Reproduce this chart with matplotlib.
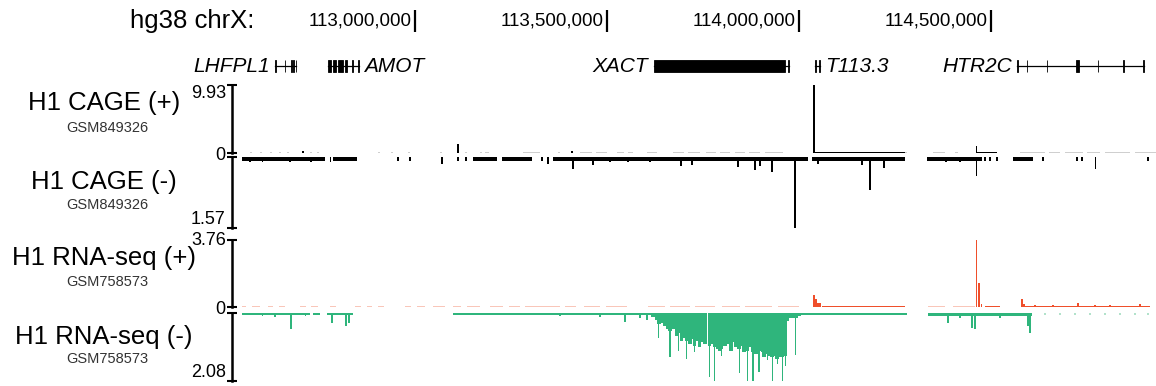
import matplotlib.pyplot as plt

plt.rcParams['font.family'] = ['Liberation Sans', 'DejaVu Sans']

# figure size in pixels
W, H = 1156, 386
# shown window on chrX (Mb)
WIN_START = 112.523
WIN_END = 114.930

ruler_ticks = [113.0, 113.5, 114.0, 114.5]
ruler_labels = ['113,000,000', '113,500,000', '114,000,000', '114,500,000']

# name, start, end, exons, label side
genes = [
    ('LHFPL1', 112.635, 112.690,
     [(112.634, 112.637), (112.660, 112.662), (112.676, 112.679), (112.682, 112.685), (112.689, 112.691)], 'left'),
    ('AMOT', 112.773, 112.854,
     [(112.773, 112.781), (112.786, 112.794), (112.799, 112.812), (112.818, 112.823), (112.836, 112.839),
      (112.852, 112.854)], 'right'),
    ('XACT', 113.621, 113.974, [(113.621, 113.964), (113.972, 113.975)], 'left'),
    ('T113.3', 114.041, 114.056, [(114.041, 114.044), (114.053, 114.056)], 'right'),
    ('HTR2C', 114.568, 114.900,
     [(114.568, 114.571), (114.593, 114.595), (114.645, 114.647), (114.721, 114.729), (114.778, 114.780),
      (114.843, 114.846), (114.897, 114.900)], 'left'),
]

track_names = ['H1 CAGE (+)', 'H1 CAGE (-)', 'H1 RNA-seq (+)', 'H1 RNA-seq (-)']
track_ids = ['GSM849326', 'GSM849326', 'GSM758573', 'GSM758573']
track_max = [9.93, 1.57, 3.76, 2.08]

# ---- CAGE (+) ----
cage_plus_faint = [
    (112.570, 112.575, 0.15), (112.596, 112.601, 0.15), (112.622, 112.627, 0.15), (112.646, 112.651, 0.15),
    (112.667, 112.672, 0.15), (112.727, 112.732, 0.15), (112.745, 112.750, 0.15), (112.904, 112.909, 0.15),
    (112.938, 112.943, 0.15), (112.982, 112.987, 0.15), (113.065, 113.070, 0.15), (113.130, 113.135, 0.15),
    (113.169, 113.174, 0.15), (113.182, 113.193, 0.15), (113.281, 113.326, 0.15), (113.372, 113.377, 0.15),
    (113.430, 113.460, 0.15), (113.470, 113.500, 0.15), (113.526, 113.545, 0.15), (113.555, 113.568, 0.15),
    (113.604, 113.630, 0.15), (113.672, 113.700, 0.15), (113.712, 113.742, 0.15), (113.758, 113.785, 0.15),
    (113.795, 113.820, 0.15), (113.833, 113.860, 0.15), (113.870, 113.898, 0.15), (113.911, 113.958, 0.15),
    (114.263, 114.281, 0.15), (114.349, 114.380, 0.15), (114.406, 114.414, 0.15), (114.575, 114.640, 0.15),
    (114.650, 114.680, 0.15), (114.693, 114.740, 0.15), (114.750, 114.784, 0.15), (114.797, 114.862, 0.15),
    (114.875, 114.930, 0.15),
]
cage_plus_cov = [(114.039, 114.276, 0.15), (114.463, 114.516, 0.15)]
cage_plus_peaks = [(112.708, 0.3), (113.112, 1.3), (113.409, 0.25), (114.039, 9.93), (114.463, 1.0)]

# ---- CAGE (-) ----
cage_minus_cov = [
    (112.549, 112.766, 0.08), (112.786, 112.849, 0.08), (113.151, 113.214, 0.08), (113.227, 113.305, 0.08),
    (113.359, 114.023, 0.08), (114.034, 114.276, 0.08), (114.333, 114.476, 0.08), (114.557, 114.609, 0.08),
]
cage_minus_peaks = [
    (112.570, 0.12), (112.602, 0.10), (112.674, 0.10), (112.729, 0.10), (112.779, 0.12), (112.956, 0.08),
    (112.987, 0.08), (113.070, 0.15), (113.112, 0.08), (113.133, 0.08), (113.331, 0.08), (113.346, 0.15),
    (113.411, 0.27), (113.464, 0.18), (113.508, 0.12), (113.555, 0.12), (113.612, 0.12), (113.693, 0.20),
    (113.721, 0.17), (113.841, 0.22), (113.885, 0.29), (113.898, 0.20), (113.930, 0.33), (113.990, 1.57),
    (114.049, 0.15), (114.164, 0.18), (114.185, 0.72), (114.221, 0.25), (114.383, 0.12), (114.419, 0.12),
    (114.463, 0.42), (114.484, 0.08), (114.497, 0.08), (114.516, 0.08), (114.635, 0.08), (114.724, 0.08),
    (114.737, 0.08), (114.773, 0.27), (114.909, 0.08),
]

# ---- RNA-seq (+) ----
rna_plus_faint = [
    (112.549, 112.560, 0.06), (112.575, 112.596, 0.06), (112.617, 112.630, 0.06), (112.645, 112.661, 0.06),
    (112.701, 112.715, 0.06), (112.730, 112.747, 0.06), (112.779, 112.795, 0.06), (112.844, 112.860, 0.06),
    (112.875, 112.888, 0.06), (112.904, 112.920, 0.06), (112.974, 112.990, 0.06), (113.005, 113.026, 0.06),
    (113.047, 113.078, 0.06), (113.099, 113.120, 0.06), (113.135, 113.169, 0.06), (113.195, 113.230, 0.06),
    (113.245, 113.273, 0.06), (113.286, 113.378, 0.06), (113.391, 113.420, 0.06), (113.440, 113.482, 0.06),
    (113.497, 113.552, 0.06), (113.607, 113.650, 0.06), (113.665, 113.716, 0.06), (113.729, 113.780, 0.06),
    (113.800, 113.846, 0.06), (113.859, 113.930, 0.06), (113.945, 114.000, 0.06), (114.336, 114.380, 0.06),
    (114.400, 114.458, 0.06),
]
rna_plus_cov = [(114.060, 114.276, 0.06), (114.484, 114.523, 0.06), (114.581, 114.914, 0.06)]
rna_plus_peaks = [
    (114.039, 0.70), (114.044, 0.45), (114.049, 0.25), (114.055, 0.25), (114.463, 3.76), (114.469, 1.37),
    (114.476, 0.15), (114.581, 0.45), (114.586, 0.15), (114.615, 0.10), (114.661, 0.12), (114.727, 0.25),
    (114.771, 0.10), (114.810, 0.10), (114.888, 0.15),
]

# ---- RNA-seq (-) ----
rna_minus_faint = [
    (114.639, 114.643, 0.05), (114.678, 114.682, 0.05), (114.717, 114.721, 0.05), (114.756, 114.760, 0.05),
    (114.795, 114.799, 0.05), (114.834, 114.838, 0.05), (114.873, 114.877, 0.05), (114.907, 114.911, 0.05),
]
rna_minus_cov = [
    (112.549, 112.727, 0.06), (112.734, 112.753, 0.06), (112.771, 112.839, 0.06), (113.099, 113.620, 0.06),
    (114.000, 114.281, 0.07), (114.336, 114.607, 0.08),
]
rna_minus_peaks = [
    (112.602, 0.10), (112.635, 0.12), (112.677, 0.49), (112.714, 0.10), (112.784, 0.31), (112.820, 0.40),
    (112.828, 0.30), (113.378, 0.10), (113.482, 0.12), (113.547, 0.28), (113.586, 0.15), (113.604, 0.20),
    (114.388, 0.30), (114.419, 0.15), (114.451, 0.45), (114.458, 0.49), (114.523, 0.15), (114.596, 0.40),
    (114.602, 0.60),
]
# dense XACT coverage on the minus strand: bulk level and single deep spikes
xact_pos = [
    113.620, 113.628, 113.635, 113.643, 113.651, 113.659, 113.664, 113.672, 113.680, 113.688,
    113.693, 113.701, 113.708, 113.716, 113.721, 113.727, 113.734, 113.740, 113.747, 113.755,
    113.766, 113.773, 113.781, 113.789, 113.794, 113.799, 113.807, 113.815, 113.823, 113.828,
    113.836, 113.844, 113.849, 113.857, 113.865, 113.872, 113.880, 113.888, 113.896, 113.904,
    113.909, 113.917, 113.922, 113.930, 113.938, 113.943, 113.951, 113.956, 113.964, 113.969,
    113.977, 113.984, 113.992, 114.000,
]
xact_bulk = [
    0.12, 0.20, 0.35, 0.30, 0.40, 0.50, 0.55, 0.50, 0.70, 0.60,
    0.85, 0.75, 0.85, 0.95, 0.80, 1.00, 0.85, 1.05, 0.90, 0.95,
    1.00, 0.95, 1.05, 1.10, 1.15, 1.10, 1.00, 0.95, 1.15, 0.90,
    1.05, 1.10, 1.00, 1.20, 1.15, 1.05, 1.20, 1.25, 1.15, 1.20,
    1.35, 1.25, 1.30, 1.35, 1.30, 1.40, 1.35, 1.35, 1.30, 0.25,
    0.15, 0.15, 0.15, 0.10,
]
xact_spikes = [
    (113.635, 0.77), (113.664, 1.35), (113.686, 1.15), (113.708, 1.41), (113.727, 1.20), (113.766, 1.96),
    (113.781, 2.08), (113.799, 1.30), (113.844, 1.85), (113.865, 2.10), (113.880, 2.08), (113.896, 1.79),
    (113.917, 1.45), (113.930, 2.10), (113.943, 1.56), (113.956, 2.08), (113.964, 1.62), (113.992, 1.29),
]

BLACK = '#000000'
GREY = '#cfcfcf'
RED = '#ef4f2b'
PINK = '#f9c6b9'
GREEN = '#2fb57c'
LIGHTGREEN = '#b2e2cb'


def px_axes(fig, x0, y0, x1, y1):
    # axes from pixel box (top-left origin)
    return fig.add_axes([x0 / W, 1 - y1 / H, (x1 - x0) / W, (y1 - y0) / H])


def draw_segments(ax, segs, sign, color):
    if not segs:
        return
    ax.bar([s[0] for s in segs], [sign * s[2] for s in segs], width=[s[1] - s[0] for s in segs],
           align='edge', color=color, linewidth=0)


def draw_peaks(ax, peaks, sign, color, width=0.004):
    ax.bar([p[0] for p in peaks], [sign * p[1] for p in peaks], width=width,
           color=color, linewidth=0)


def style_track(ax, vmax, sign, top_va='center'):
    ax.set_xlim(WIN_START, WIN_END)
    for side in ['top', 'right', 'bottom']:
        ax.spines[side].set_visible(False)
    ax.spines['left'].set_linewidth(1.8)
    ax.set_xticks([])
    if sign > 0:
        ax.set_ylim(0, vmax)
        ax.set_yticks([0, vmax])
        ax.set_yticklabels(['0', f'{vmax}'])
        ax.get_yticklabels()[1].set_va(top_va)
    else:
        ax.set_ylim(-vmax, 0)
        ax.set_yticks([-vmax, 0])
        ax.set_yticklabels([f'{vmax}', ''])
        ax.get_yticklabels()[0].set_va('bottom')
    ax.tick_params(axis='y', direction='inout', length=7, width=1.5, labelsize=13, pad=1)
    ax.patch.set_alpha(0)


fig = plt.figure(figsize=(W / 100, H / 100), dpi=100)

# ruler
ax_r = px_axes(fig, 232, 10, 1156, 32)
ax_r.set_xlim(WIN_START, WIN_END)
ax_r.set_ylim(0, 1)
ax_r.axis('off')
ax_r.vlines(ruler_ticks, 0.0, 1.0, color='black', lw=1.6)
for pos, lab in zip(ruler_ticks, ruler_labels):
    ax_r.annotate(lab, (pos, 0.5), xytext=(-3, 0), textcoords='offset pixels',
                  ha='right', va='center', fontsize=13.5)
fig.text(130 / W, 1 - 21 / H, 'hg38 chrX:', fontsize=18.5, ha='left', va='center')

# gene track
ax_g = px_axes(fig, 232, 59, 1156, 73)
ax_g.set_xlim(WIN_START, WIN_END)
ax_g.set_ylim(-1, 1)
ax_g.axis('off')
for name, start, end, exons, side in genes:
    ax_g.plot([start, end], [0, 0], color='black', lw=0.9)
    ax_g.bar([e[0] for e in exons], [1.7] * len(exons), width=[e[1] - e[0] for e in exons],
             bottom=-0.85, align='edge', color='black', edgecolor='black', linewidth=0.6)
    if side == 'left':
        ax_g.annotate(name, (start, 0), xytext=(-5, 0), textcoords='offset pixels',
                      ha='right', va='center', fontsize=15, style='italic')
    else:
        ax_g.annotate(name, (end, 0), xytext=(5, 0), textcoords='offset pixels',
                      ha='left', va='center', fontsize=15, style='italic')

# signal tracks
boxes = [(85, 153), (157, 228), (240, 307), (313, 381)]
ax_cp = px_axes(fig, 232, boxes[0][0], 1156, boxes[0][1])
draw_segments(ax_cp, cage_plus_faint, 1, GREY)
draw_segments(ax_cp, cage_plus_cov, 1, BLACK)
draw_peaks(ax_cp, cage_plus_peaks, 1, BLACK)
style_track(ax_cp, track_max[0], 1, top_va='top')

ax_cm = px_axes(fig, 232, boxes[1][0], 1156, boxes[1][1])
draw_segments(ax_cm, cage_minus_cov, -1, BLACK)
draw_peaks(ax_cm, cage_minus_peaks, -1, BLACK)
style_track(ax_cm, track_max[1], -1)

ax_rp = px_axes(fig, 232, boxes[2][0], 1156, boxes[2][1])
draw_segments(ax_rp, rna_plus_faint, 1, PINK)
draw_segments(ax_rp, rna_plus_cov, 1, RED)
draw_peaks(ax_rp, rna_plus_peaks, 1, RED)
style_track(ax_rp, track_max[2], 1, top_va='center')

ax_rm = px_axes(fig, 232, boxes[3][0], 1156, boxes[3][1])
draw_segments(ax_rm, rna_minus_faint, -1, LIGHTGREEN)
draw_segments(ax_rm, rna_minus_cov, -1, GREEN)
draw_peaks(ax_rm, rna_minus_peaks, -1, GREEN)
ax_rm.bar(xact_pos, [-v for v in xact_bulk], width=0.0085, color=GREEN, linewidth=0)
draw_peaks(ax_rm, xact_spikes, -1, GREEN, width=0.003)
style_track(ax_rm, track_max[3], -1)

# track labels
label_y = [103, 182, 258, 337]
id_y = [128, 205, 282, 359]
for name, gid, ly, iy in zip(track_names, track_ids, label_y, id_y):
    fig.text(104 / W, 1 - ly / H, name, fontsize=18.5, ha='center', va='center')
    fig.text(107 / W, 1 - iy / H, gid, fontsize=10.5, ha='center', va='center', color='#333333')

fig.savefig('out.png', dpi=100)
